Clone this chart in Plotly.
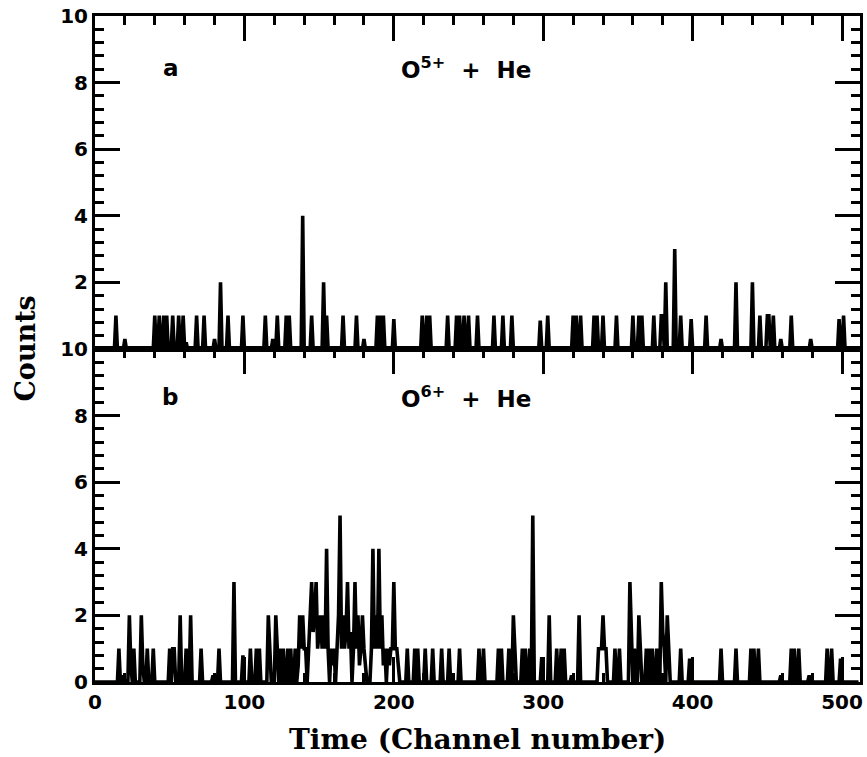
import numpy as np
import plotly.graph_objects as go

# ---- data (channel, counts) ----
a_channels = [14, 20, 40, 43, 46, 48, 52, 56, 59, 61, 68, 73, 80, 84, 89, 99, 114, 119, 122,
              128, 130, 139, 145, 153, 155, 166, 175, 180, 189, 191, 193, 200, 219, 222, 224,
              236, 242, 244, 247, 250, 256, 267, 273, 279, 298, 303, 320, 322, 325, 334, 336,
              340, 349, 360, 364, 366, 374, 379, 380, 382, 388, 392, 399, 409, 419, 429, 440,
              445, 450, 451, 454, 459, 466, 479, 498, 501]
a_counts = [1, 0.3, 1, 1, 1, 1, 1, 1, 1, 0.2, 1, 1, 0.3, 2, 1, 1, 1, 0.3, 1,
            1, 1, 4, 1, 2, 1, 1, 1, 0.3, 1, 1, 1, 0.9, 1, 1, 1,
            1, 1, 1, 1, 1, 1, 1, 1, 1, 0.85, 1, 1, 1, 1, 1, 1,
            1, 1, 1, 1, 1, 1, 1, 1, 2, 3, 1, 0.9, 1, 0.3, 2, 2,
            1, 1, 1, 1, 0.3, 1, 0.3, 0.9, 1]

b_channels = [16, 19, 23, 24, 26, 31, 32, 35, 39, 50, 52, 53, 57, 61, 64, 71, 79, 83, 93, 99,
              104, 108, 110, 116, 117, 121, 122, 124, 126, 129, 131, 134,
              136, 137, 138, 139, 140, 141, 143, 144, 145, 146, 147, 148, 149, 150, 151, 152,
              153, 154, 155, 156, 158, 159, 160, 162, 163, 164, 165, 166, 167, 168, 169, 170,
              171, 173, 174, 175, 176, 177, 178, 179, 180, 181, 185, 186, 187, 188, 189, 190,
              191, 192, 193, 194, 196, 197, 198, 199, 200, 201, 202, 203,
              209, 214, 216, 221, 226, 232, 237, 244, 257, 260, 270, 272, 277, 280, 281, 286,
              288, 291, 293, 299, 304, 309, 312, 314, 319, 324, 337, 338, 339, 340, 341, 342,
              348, 351, 358, 359, 361, 364, 365, 369, 371, 373, 376, 379, 380, 381, 383, 384,
              392, 398, 419, 429, 439, 441, 444, 459, 466, 468, 471, 478, 490, 493, 499]
b_counts = [1, 0.2, 2, 0.5, 1, 2, 0.5, 1, 1, 1, 1, 1, 2, 1, 2, 1, 0.2, 1, 3, 0.8,
            1, 1, 1, 2, 1, 2, 1, 1, 1, 1, 1, 1,
            0.5, 2, 1, 2, 1, 1, 1, 2, 3, 1.5, 2, 3, 1, 1.5, 2, 1,
            2, 1, 4, 1, 1, 0.5, 1, 1, 2, 5, 1, 2, 1, 1.5, 3, 1,
            1.5, 1, 3, 1, 2, 0.5, 1, 2, 1, 0.5, 1, 4, 1, 2, 1, 4,
            1, 2, 0.5, 1, 1, 0.5, 1, 1, 3, 1, 1, 0.5,
            1, 1, 1, 1, 1, 1, 1, 1, 1, 1, 1, 1, 1, 2, 1, 1,
            1, 1, 5, 0.75, 2, 1, 1, 1, 0.2, 2, 1, 1, 1, 2, 1, 1,
            1, 1, 3, 1, 1, 2, 1, 1, 1, 1, 1, 3, 1.5, 1, 2, 1,
            1, 0.7, 1, 1, 1, 1, 1, 0.2, 1, 1, 1, 0.2, 1, 1, 0.7]

n_channels = 512
x_ticks = [0, 100, 200, 300, 400, 500]
y_ticks_top = [2, 4, 6, 8, 10]
y_ticks_bottom = [0, 2, 4, 6, 8, 10]


def spectrum(ch, cnt):
    y = np.zeros(n_channels)
    y[np.array(ch)] = np.array(cnt)
    return y


chan = np.arange(n_channels)
ya = spectrum(a_channels, a_counts)
yb = spectrum(b_channels, b_counts)

fig = go.Figure()
fig.add_trace(go.Scatter(x=chan, y=ya, mode="lines", line=dict(color="black", width=3.6),
                         xaxis="x", yaxis="y", showlegend=False))
fig.add_trace(go.Scatter(x=chan, y=yb, mode="lines", line=dict(color="black", width=3.6),
                         xaxis="x2", yaxis="y2", showlegend=False))

tickfont = dict(family="DejaVu Sans", size=20, color="black", weight="bold")
common_x = dict(range=[0, 512], showgrid=False, zeroline=False, showline=True, linecolor="black",
                linewidth=3, ticks="inside", ticklen=25, tickwidth=2.5, tickcolor="black",
                tickvals=x_ticks,
                minor=dict(dtick=20, tick0=0, ticks="inside", ticklen=9, tickwidth=2.5,
                           tickcolor="black"))
common_y = dict(range=[0, 10], showgrid=False, zeroline=False, showline=True, linecolor="black",
                linewidth=3, ticks="inside", ticklen=25, tickwidth=2.5, tickcolor="black",
                mirror="ticks", tickfont=tickfont,
                minor=dict(dtick=0.4, tick0=0, ticks="inside", ticklen=9, tickwidth=2.5,
                           tickcolor="black"))

fig.update_layout(
    width=867, height=757,
    margin=dict(l=95, r=4, t=16, b=75),
    paper_bgcolor="white", plot_bgcolor="white",
    xaxis=dict(common_x, domain=[0, 1], anchor="y", side="top", showticklabels=False,
               mirror=True),
    yaxis=dict(common_y, domain=[0.5, 1], anchor="x", tickvals=y_ticks_top),
    xaxis2=dict(common_x, domain=[0, 1], anchor="y2", mirror="ticks", tickfont=tickfont),
    yaxis2=dict(common_y, domain=[0, 0.5], anchor="x2", tickvals=y_ticks_bottom),
)

ann_font = dict(family="DejaVu Sans", size=23, color="black", weight="bold")
title_font = dict(family="DejaVu Serif", size=28, color="black", weight="bold")
fig.add_annotation(x=51, y=8.45, xref="x", yref="y", text="a", showarrow=False, font=ann_font)
fig.add_annotation(x=248, y=8.45, xref="x", yref="y", text="O<sup>5+</sup>  +  He",
                   showarrow=False, font=ann_font)
fig.add_annotation(x=50, y=8.55, xref="x2", yref="y2", text="b", showarrow=False, font=ann_font)
fig.add_annotation(x=248, y=8.55, xref="x2", yref="y2", text="O<sup>6+</sup>  +  He",
                   showarrow=False, font=ann_font)
fig.add_annotation(x=0.5, y=-0.087, xref="paper", yref="paper", text="Time (Channel number)",
                   showarrow=False, font=title_font, yanchor="middle")
fig.add_annotation(x=-0.092, y=0.5, xref="paper", yref="paper", text="Counts", textangle=-90,
                   showarrow=False, font=dict(title_font, size=27), xanchor="center")

fig.write_html("out.html")
